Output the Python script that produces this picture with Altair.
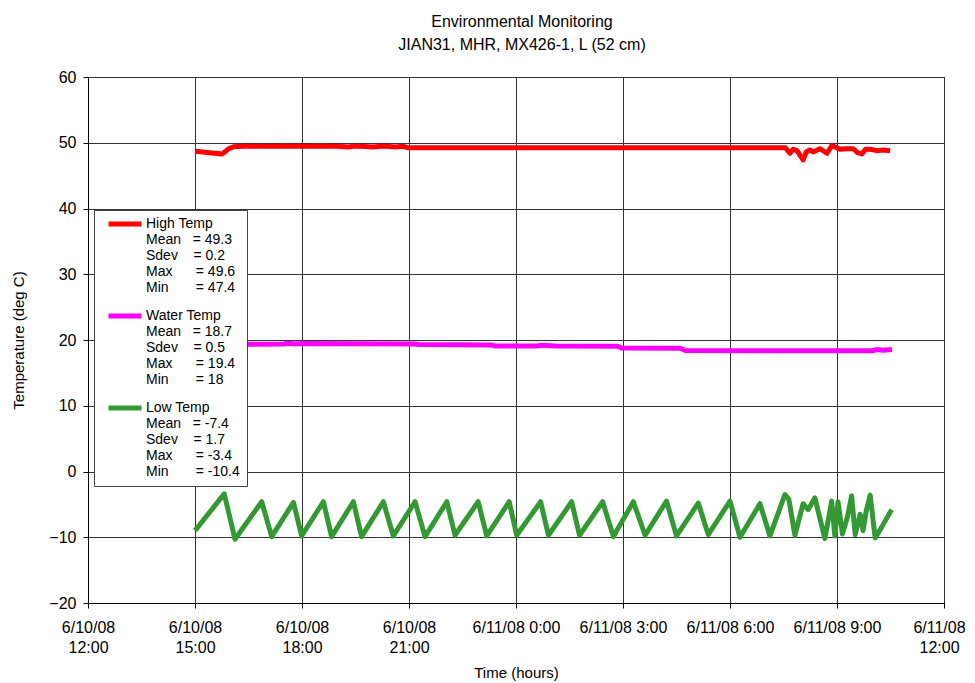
import json
import altair as alt
import pandas as pd

# ---- data (hours after 6/10/08 12:00, temperature deg C) ----
HIGH_H = [3.00, 3.76, 3.95, 4.10, 4.50, 5.00, 5.50, 6.00, 6.50, 7.00, 7.30, 7.50, 8.00, 8.30, 8.60, 8.85, 8.95,
          19.55, 19.68, 19.77, 19.88, 20.05, 20.14, 20.24, 20.33, 20.52, 20.72, 20.86, 21.08, 21.25, 21.45,
          21.58, 21.70, 21.80, 21.93, 22.12, 22.29, 22.49]
HIGH_V = [48.7, 48.3, 49.1, 49.4, 49.5, 49.45, 49.5, 49.45, 49.5, 49.45, 49.35, 49.5, 49.35, 49.5, 49.35, 49.45, 49.25,
          49.25, 48.4, 49.0, 48.8, 47.4, 48.6, 48.9, 48.6, 49.1, 48.4, 49.6, 49.0, 49.1, 49.1,
          48.5, 48.3, 49.0, 49.0, 48.8, 48.9, 48.8]

WATER_H = [3.00, 4.50, 5.50, 5.60, 5.80, 6.00, 9.15, 9.30, 11.30, 11.40, 12.60, 12.70, 13.10, 14.85, 14.95,
           16.60, 16.75, 22.00, 22.10, 22.30, 22.54]
WATER_V = [19.25, 19.35, 19.4, 19.5, 19.4, 19.45, 19.4, 19.3, 19.25, 19.1, 19.1, 19.2, 19.1, 19.05, 18.8,
           18.75, 18.4, 18.35, 18.55, 18.45, 18.55]

LOW_H = [3.00, 3.82, 4.12, 4.87, 5.15, 5.76, 5.99, 6.60, 6.83, 7.44, 7.67, 8.28, 8.56, 9.17, 9.45,
         10.06, 10.29, 10.94, 11.18, 11.81, 12.02, 12.69, 12.91, 13.56, 13.78, 14.43, 14.73, 15.29, 15.62,
         16.22, 16.50, 17.11, 17.39, 18.00, 18.28, 18.84, 19.12, 19.54, 19.65, 19.82, 20.05, 20.19, 20.38,
         20.66, 20.85, 20.94, 21.03, 21.15, 21.29, 21.41, 21.51, 21.65, 21.73, 21.82, 21.93, 22.07, 22.25, 22.53]
LOW_V = [-9.0, -3.4, -10.3, -4.6, -9.9, -4.7, -9.8, -4.6, -9.9, -4.6, -9.9, -4.6, -9.8, -4.6, -9.9,
         -4.6, -9.7, -4.6, -9.8, -4.6, -9.7, -4.6, -9.7, -4.6, -9.7, -4.6, -9.9, -4.6, -9.7,
         -4.5, -9.8, -4.8, -9.6, -4.5, -10.0, -4.9, -9.8, -3.5, -4.2, -9.7, -4.9, -5.8, -4.0,
         -10.2, -4.5, -9.8, -4.6, -9.5, -7.0, -3.7, -9.6, -6.5, -9.0, -6.0, -3.6, -10.1, -8.5, -5.8]

SERIES = ["High Temp", "Water Temp", "Low Temp"]
COLORS = ["#FF0000", "#FF00FF", "#339933"]
STAT_NAMES = ["Mean", "Sdev", "Max", "Min"]
STAT_PAD = [3, 4, 6, 7]
HIGH_STATS = ["49.3", "0.2", "49.6", "47.4"]
WATER_STATS = ["18.7", "0.5", "19.4", "18"]
LOW_STATS = ["-7.4", "1.7", "-3.4", "-10.4"]

X_TICKS = [0, 3, 6, 9, 12, 15, 18, 21, 24]
X_LABELS = [["6/10/08", "12:00"], ["6/10/08", "15:00"], ["6/10/08", "18:00"], ["6/10/08", "21:00"],
            ["6/11/08 0:00"], ["6/11/08 3:00"], ["6/11/08 6:00"], ["6/11/08 9:00"],
            ["6/11/08", "12:00"]]
Y_TICKS = [-20, -10, 0, 10, 20, 30, 40, 50, 60]

TITLE = ["Environmental Monitoring", "JIAN31, MHR, MX426-1, L (52 cm)"]
FONT = "Liberation Sans, Arial, sans-serif"

# ---- build table ----
rows = []
for name, hs, vs in zip(SERIES, [HIGH_H, WATER_H, LOW_H], [HIGH_V, WATER_V, LOW_V]):
    for h, v in zip(hs, vs):
        rows.append({"series": name, "hours": h, "temp": v})
df = pd.DataFrame(rows)


def legend_lines(name, stats):
    lines = [name]
    for n, pad, s in zip(STAT_NAMES, STAT_PAD, stats):
        lines.append(n + "\u00a0" * pad + "=\u00a0" + s)
    return lines


lab = {n: legend_lines(n, s) for n, s in zip(SERIES, [HIGH_STATS, WATER_STATS, LOW_STATS])}
legend_expr = (
    f"datum.label == 'High Temp' ? {json.dumps(lab['High Temp'], ensure_ascii=False)} : "
    f"datum.label == 'Water Temp' ? {json.dumps(lab['Water Temp'], ensure_ascii=False)} : "
    f"{json.dumps(lab['Low Temp'], ensure_ascii=False)}"
)
x_label_expr = f"{json.dumps(X_LABELS, ensure_ascii=False)}[round(datum.value / 3)]"

chart = alt.Chart(df).mark_line(strokeWidth=5, strokeJoin="round").encode(
    x=alt.X("hours:Q",
            scale=alt.Scale(domain=[0, 24], nice=False, zero=False),
            axis=alt.Axis(values=X_TICKS, labelExpr=x_label_expr, title="Time (hours)",
                          labelOverlap=False, labelFlush=False, labelLineHeight=20,
                          labelOffset={"condition": {"test": "datum.value == 24", "value": -5}, "value": 0},
                          labelPadding=11, tickSize=5, titlePadding=10)),
    y=alt.Y("temp:Q",
            scale=alt.Scale(domain=[-20, 60], nice=False, zero=False),
            axis=alt.Axis(values=Y_TICKS, title="Temperature (deg C)", labelPadding=7,
                          tickSize=5, titlePadding=22)),
    color=alt.Color("series:N",
                    scale=alt.Scale(domain=SERIES, range=COLORS),
                    legend=alt.Legend(title=None, orient="none", legendX=6, legendY=133,
                                      direction="vertical", labelExpr=legend_expr,
                                      labelFontSize=14, labelBaseline="middle", labelOffset=2,
                                      labelLimit=400, symbolType="stroke", symbolStrokeWidth=5,
                                      symbolSize=1089, symbolOffset=5, rowPadding=14, padding=7,
                                      clipHeight=14,
                                      fillColor="white", strokeColor="#444444", labelFont=FONT,
                                      labelColor="black")),
    detail="series:N",
).properties(
    width=856, height=526,
    autosize=alt.AutoSizeParams(type="none"),
    padding={"left": 80, "top": 69, "right": 23, "bottom": 80},
    title=alt.TitleParams(TITLE, fontSize=16, fontWeight="normal", lineHeight=23, font=FONT,
                          anchor="middle", frame="group", dx=6, offset=16, color="black"),
).configure_view(
    stroke="black", strokeWidth=1
).configure_axis(
    grid=True, gridColor="#333333", gridWidth=1, domainColor="black", tickColor="black",
    labelFont=FONT, titleFont=FONT, labelFontSize=16, titleFontSize=15, titleFontWeight="normal",
    labelColor="black", titleColor="black"
)

chart.save("out.html", embed_options={"renderer": "svg", "actions": False})
